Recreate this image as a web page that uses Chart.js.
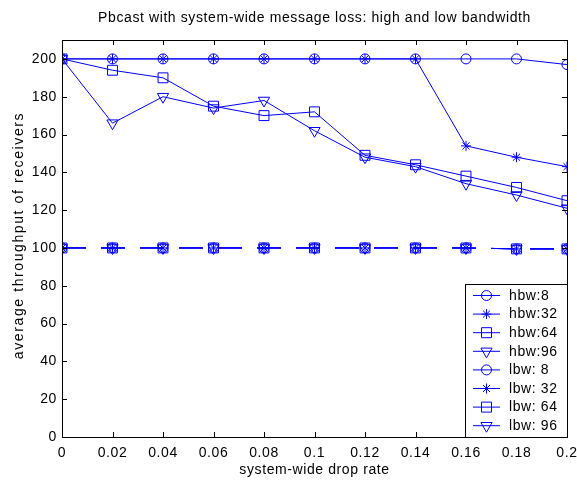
<!DOCTYPE html>
<html>
<head>
<meta charset="utf-8">
<script src="https://cdn.jsdelivr.net/npm/chart.js@4.4.1/dist/chart.umd.min.js"></script>
<style>
  html, body { margin: 0; padding: 0; background: #fff; }
  #wrap { width: 577px; height: 480px; }
</style>
</head>
<body>
<div id="wrap"><canvas id="lossChart"></canvas></div>
<script>
// datos
var dropRates = [0, 0.02, 0.04, 0.06, 0.08, 0.1, 0.12, 0.14, 0.16, 0.18, 0.2];
var xTickValues = [0, 0.02, 0.04, 0.06, 0.08, 0.1, 0.12, 0.14, 0.16, 0.18, 0.2];
var yTickValues = [0, 20, 40, 60, 80, 100, 120, 140, 160, 180, 200];

var hbw8  = [200, 200, 200, 200, 200, 200, 200, 200, 200, 200, 197];
var hbw32 = [200, 200, 200, 200, 200, 200, 200, 200, 154, 148, 143];
var hbw64 = [200, 194, 190, 175, 170, 172, 149, 144, 138, 132, 125];
var hbw96 = [200, 166, 180, 174, 178, 162, 148, 143, 134, 128, 121];
var lbw8  = [100, 100, 100, 100, 100, 100, 100, 100, 100, 99.5, 99.5];
var lbw32 = [100, 100, 100, 100, 100, 100, 100, 100, 100, 99.5, 99.5];
var lbw64 = [100, 100, 100, 100, 100, 100, 100, 100, 100, 99.5, 99.5];
var lbw96 = [100, 100, 100, 100, 100, 100, 100, 100, 100, 99.5, 99.5];

var seriesNames = ['hbw:8', 'hbw:32', 'hbw:64', 'hbw:96', 'lbw: 8', 'lbw: 32', 'lbw: 64', 'lbw: 96'];
var seriesData = [hbw8, hbw32, hbw64, hbw96, lbw8, lbw32, lbw64, lbw96];
var markers = ['circle', 'star', 'rect', 'triangle', 'circle', 'star', 'rect', 'triangle'];

var BLUE = 'rgb(0,0,255)';
var FONT = '"Liberation Sans", Arial, Helvetica, sans-serif';

function toPoints(ys) {
    return ys.map(function (y, i) { return { x: dropRates[i], y: y }; });
}

function markerRadius(style) {
    if (style === 'rect') return 7;
    if (style === 'triangle') return 6.5;
    return 5;
}

var datasets = seriesData.map(function (ys, i) {
    return {
        label: seriesNames[i],
        data: toPoints(ys),
        borderColor: BLUE,
        backgroundColor: 'rgba(0,0,0,0)',
        borderWidth: 1,
        borderDash: i >= 4 ? [24, 15] : [],
        pointStyle: markers[i],
        pointRotation: markers[i] === 'triangle' ? 180 : 0,
        pointRadius: markerRadius(markers[i]),
        pointBorderWidth: 1,
        pointBorderColor: BLUE,
        pointBackgroundColor: 'rgba(0,0,0,0)',
        tension: 0
    };
});

// dibuja un marcador simple para la leyenda
function drawMarker(ctx, style, x, y) {
    ctx.beginPath();
    if (style === 'circle') {
        ctx.arc(x, y, 5, 0, Math.PI * 2);
    } else if (style === 'rect') {
        ctx.rect(x - 5, y - 5, 10, 10);
    } else if (style === 'triangle') {
        ctx.moveTo(x - 5.6, y - 3.2);
        ctx.lineTo(x + 5.6, y - 3.2);
        ctx.lineTo(x, y + 6.5);
        ctx.closePath();
    } else if (style === 'star') {
        var r = 5;
        ctx.moveTo(x - r, y); ctx.lineTo(x + r, y);
        ctx.moveTo(x, y - r); ctx.lineTo(x, y + r);
        var d = r * Math.SQRT1_2;
        ctx.moveTo(x - d, y - d); ctx.lineTo(x + d, y + d);
        ctx.moveTo(x - d, y + d); ctx.lineTo(x + d, y - d);
    }
    ctx.stroke();
}

// espaciado de letras parecido al de matlab
function setSpacing(chart) {
    if ('letterSpacing' in chart.ctx) chart.ctx.letterSpacing = '0.6px';
}

// caja, marcas hacia dentro, titulo y leyenda al estilo matlab
var matlabFrame = {
    id: 'matlabFrame',
    beforeUpdate: setSpacing,
    beforeLayout: setSpacing,
    beforeDraw: setSpacing,
    afterDraw: function (chart) {
        var ctx = chart.ctx;
        var a = chart.chartArea;
        var xs = chart.scales.x, ys = chart.scales.y;
        ctx.save();
        ctx.strokeStyle = '#000';
        ctx.lineWidth = 1;
        ctx.setLineDash([]);
        ctx.strokeRect(Math.round(a.left) + 0.5, Math.round(a.top) + 0.5,
            Math.round(a.right - a.left), Math.round(a.bottom - a.top));
        var tl = 5;
        ctx.beginPath();
        xTickValues.forEach(function (v) {
            var px = Math.round(xs.getPixelForValue(v)) + 0.5;
            ctx.moveTo(px, a.bottom); ctx.lineTo(px, a.bottom - tl);
            ctx.moveTo(px, a.top); ctx.lineTo(px, a.top + tl);
        });
        yTickValues.forEach(function (v) {
            var py = Math.round(ys.getPixelForValue(v)) + 0.5;
            ctx.moveTo(a.left, py); ctx.lineTo(a.left + tl, py);
            ctx.moveTo(a.right, py); ctx.lineTo(a.right - tl, py);
        });
        ctx.stroke();

        // titulo
        ctx.fillStyle = '#000';
        ctx.font = '14px ' + FONT;
        ctx.textAlign = 'center';
        ctx.textBaseline = 'middle';
        ctx.fillText('Pbcast with system-wide message loss: high and low bandwidth',
            (a.left + a.right) / 2, 18);

        // etiqueta del eje y, con mas espaciado
        ctx.save();
        if ('letterSpacing' in ctx) ctx.letterSpacing = '1.6px';
        ctx.translate(19, (a.top + a.bottom) / 2 - 3);
        ctx.rotate(-Math.PI / 2);
        ctx.fillText('average throughput of receivers', 0, 0);
        ctx.restore();

        // leyenda
        var bw = 102, rowH = 18.6;
        var bh = 153;
        var bx = Math.round(a.right) - bw, by = Math.round(a.bottom) - bh;
        ctx.fillStyle = '#fff';
        ctx.fillRect(bx, by, bw, bh);
        ctx.strokeStyle = '#000';
        ctx.strokeRect(bx + 0.5, by + 0.5, bw, bh);
        ctx.textAlign = 'left';
        seriesNames.forEach(function (name, i) {
            var ry = by + 11 + i * rowH;
            ctx.strokeStyle = BLUE;
            ctx.beginPath();
            ctx.moveTo(bx + 8, ry + 0.5); ctx.lineTo(bx + 35, ry + 0.5);
            ctx.stroke();
            drawMarker(ctx, markers[i], bx + 21.5, ry + 0.5);
            ctx.fillStyle = '#000';
            ctx.fillText(name, bx + 44, ry + 1);
        });
        ctx.restore();
    }
};

Chart.defaults.font.family = FONT;
Chart.defaults.font.size = 14;
Chart.defaults.color = '#000';

var lossChart = new Chart(document.getElementById('lossChart').getContext('2d'), {
    type: 'line',
    data: { datasets: datasets },
    options: {
        responsive: true,
        maintainAspectRatio: false,
        animation: false,
        layout: { padding: { left: 0, right: 10, top: 40, bottom: 0 } },
        plugins: {
            legend: { display: false },
            title: { display: false },
            tooltip: { enabled: false }
        },
        scales: {
            x: {
                type: 'linear',
                min: 0,
                max: 0.2,
                afterBuildTicks: function (scale) {
                    scale.ticks = xTickValues.map(function (v) { return { value: v }; });
                },
                afterFit: function (scale) {
                    scale.height = 43;
                    scale.paddingLeft = 0;
                    scale.paddingRight = 0;
                },
                grid: { display: false, drawTicks: false },
                border: { display: false },
                ticks: {
                    padding: 8,
                    maxRotation: 0,
                    autoSkip: false,
                    callback: function (v) { return String(+Number(v).toFixed(2)); }
                },
                title: {
                    display: true,
                    text: 'system-wide drop rate',
                    padding: { top: 0, bottom: 1 }
                }
            },
            y: {
                min: 0,
                max: 210,
                afterBuildTicks: function (scale) {
                    scale.ticks = yTickValues.map(function (v) { return { value: v }; });
                },
                afterFit: function (scale) { scale.width = 62; },
                grid: { display: false, drawTicks: false },
                border: { display: false },
                ticks: { padding: 5 },
                title: { display: false }
            }
        }
    },
    plugins: [matlabFrame]
});
</script>
</body>
</html>
